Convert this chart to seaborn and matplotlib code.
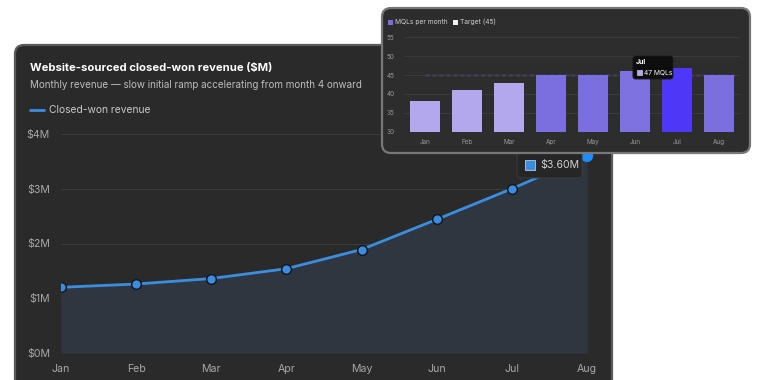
import matplotlib.pyplot as plt
import numpy as np
import pandas as pd
import seaborn as sns
from matplotlib.lines import Line2D
from matplotlib.patches import FancyBboxPatch, Rectangle
from matplotlib.transforms import IdentityTransform

# data
months = ["Jan", "Feb", "Mar", "Apr", "May", "Jun", "Jul", "Aug"]
revenue_m = [1.20, 1.26, 1.36, 1.54, 1.89, 2.44, 3.00, 3.60]
revenue_ticks = [0, 1, 2, 3, 4]
revenue_labels = ["$0M", "$1M", "$2M", "$3M", "$4M"]
mqls = [38, 41, 43, 45, 45, 46, 47, 45]
mql_target = 45
mql_ticks = [30, 35, 40, 45, 50, 55]
bar_colors = ["#b3a8ed", "#b3a8ed", "#b3a8ed", "#7b6fe0",
              "#7b6fe0", "#7d72e0", "#4c38f6", "#7b6fe0"]

W, H = 760, 380

sns.set_theme(style="dark")
plt.rcParams["font.family"] = ["Inter", "DejaVu Sans"]

fig = plt.figure(figsize=(W / 100, H / 100), dpi=100)
fig.patch.set_facecolor("white")


def box(x0, y0, x1, y1):
    """pixel box (top-left origin) -> figure fraction rect"""
    return [x0 / W, 1 - y1 / H, (x1 - x0) / W, (y1 - y0) / H]


def panel(x0, y0, x1, y1, fc, ec, z):
    p = FancyBboxPatch((x0, H - y1), x1 - x0, y1 - y0,
                       boxstyle="round,pad=0,rounding_size=9",
                       fc=fc, ec=ec, lw=1.6, transform=IdentityTransform(),
                       zorder=z)
    fig.add_artist(p)


# ---- main panel: revenue line ----
panel(15, 45, 612, 420, "#2a2a2a", "#5a5a5a", 0.5)

fig.text(30 / W, 1 - 68 / H, "Website-sourced closed-won revenue ($M)",
         color="white", fontsize=8.1, weight="bold", va="center", zorder=1)
fig.text(30 / W, 1 - 85 / H,
         "Monthly revenue \u2014 slow initial ramp accelerating from month 4 onward",
         color="#bdbdbd", fontsize=7.1, va="center", zorder=1)
fig.add_artist(Line2D([30 / W, 44 / W], [1 - 110 / H] * 2, color="#3b8de0",
                      lw=2, zorder=1))
fig.text(49 / W, 1 - 110 / H, "Closed-won revenue", color="#c8c8c8",
         fontsize=7.4, va="center", zorder=1)

df = pd.DataFrame({"month": months, "revenue": revenue_m})

ax = fig.add_axes(box(61, 134, 587, 353), zorder=1)
ax.set_facecolor("none")
ax.fill_between(np.arange(len(months)), revenue_m, 0, color="#30363f", lw=0)
sns.lineplot(data=df, x="month", y="revenue", ax=ax, color="#3b8de0", lw=2,
             marker="o", markersize=7, markerfacecolor="#3b8de0",
             markeredgecolor="#15191f", markeredgewidth=1.1)
sns.scatterplot(data=df.tail(1), x="month", y="revenue", ax=ax, s=80,
                color="#1c8cff", edgecolor="none", zorder=5, clip_on=False)
ax.set_xlim(0, len(months) - 1)
ax.set_ylim(0, 4)
ax.set_yticks(revenue_ticks)
ax.set_yticklabels(revenue_labels)
ax.set_xlabel("")
ax.set_ylabel("")
for s in ax.spines.values():
    s.set_visible(False)
ax.grid(axis="y", color="#3a3a3a", lw=0.8)
ax.grid(axis="x", visible=False)
ax.tick_params(colors="#a8a8a8", labelsize=7.6, length=0)
ax.tick_params(axis="x", pad=8)
ax.tick_params(axis="y", pad=8)
for lab in ax.get_xticklabels() + ax.get_yticklabels():
    lab.set_color("#a8a8a8")

# tooltip on Aug
axx, axy = ax.transData.transform((len(months) - 1, revenue_m[-1]))
fig.add_artist(FancyBboxPatch((axx - 70, axy - 22), 65, 26,
                              boxstyle="round,pad=0,rounding_size=3",
                              fc="#262626", ec="#3a3a3a", lw=0.8,
                              transform=IdentityTransform(), zorder=2))
fig.add_artist(Rectangle((axx - 62, axy - 14), 10, 10, fc="#3b8de0",
                         ec="#cfe3f7", lw=0.5, transform=IdentityTransform(),
                         zorder=2.1))
fig.text(axx - 47, axy - 9, f"${revenue_m[-1]:.2f}M", color="#d0d0d0",
         fontsize=7.6, va="center", transform=IdentityTransform(), zorder=2.1)

# ---- inset panel: MQL bars ----
panel(382, 8, 750, 153, "#2d2d2d", "#777777", 3)

bx = fig.add_axes(box(403.7, 37.3, 740, 131.7), zorder=4)
bx.set_facecolor("none")
bx.axhline(mql_target, xmin=0.063, xmax=0.985, color="#6a5ed8", lw=1.0,
           ls=(0, (3, 2)), zorder=0.5)
sns.barplot(x=months, y=mqls, hue=months, palette=bar_colors, legend=False,
            ax=bx, width=0.71, saturation=1, edgecolor="none", linewidth=0,
            zorder=2)
bx.set_xlim(-0.5, len(months) - 0.5)
bx.set_ylim(30, 55)
bx.set_yticks(mql_ticks)
for s in bx.spines.values():
    s.set_visible(False)
bx.grid(axis="y", color="#3d3d3d", lw=0.6)
bx.grid(axis="x", visible=False)
bx.set_axisbelow(True)
bx.tick_params(colors="#9a9a9a", labelsize=4.6, length=0)
bx.tick_params(axis="x", pad=5)
bx.tick_params(axis="y", pad=12)
for lab in bx.get_yticklabels():
    lab.set_horizontalalignment("left")
for lab in bx.get_xticklabels() + bx.get_yticklabels():
    lab.set_color("#9a9a9a")

# inset legend
fig.add_artist(Rectangle((388, H - 24.5), 5, 5, fc="#7b6fe0", ec="none",
                         transform=IdentityTransform(), zorder=4))
fig.text(395, H - 22, "MQLs per month", color="#cfcfcf", fontsize=4.8,
         va="center", transform=IdentityTransform(), zorder=4)
fig.add_artist(Rectangle((453, H - 24.5), 5, 5, fc="#f2f2f2", ec="none",
                         transform=IdentityTransform(), zorder=4))
fig.text(460, H - 22, f"Target ({mql_target})", color="#cfcfcf",
         fontsize=4.8, va="center", transform=IdentityTransform(), zorder=4)

# tooltip on Jul
jx, jy = bx.transData.transform((6, mqls[6]))
fig.add_artist(FancyBboxPatch((jx - 44, jy - 11.5), 40, 23,
                              boxstyle="round,pad=0,rounding_size=2.5",
                              fc="#0d0d0d", ec="#1a1a1a", lw=0.6,
                              transform=IdentityTransform(), zorder=5))
fig.text(jx - 41, jy + 5.5, months[6], color="white", fontsize=5.0,
         weight="bold", va="center", transform=IdentityTransform(), zorder=5.1)
fig.add_artist(Rectangle((jx - 40, jy - 7.5), 5, 5, fc="#b3a8ed",
                         ec="#e6e2fb", lw=0.4, transform=IdentityTransform(),
                         zorder=5.1))
fig.text(jx - 33, jy - 5, f"{mqls[6]} MQLs", color="white", fontsize=4.8,
         va="center", transform=IdentityTransform(), zorder=5.1)

fig.savefig("out.png", dpi=100, facecolor="white")
